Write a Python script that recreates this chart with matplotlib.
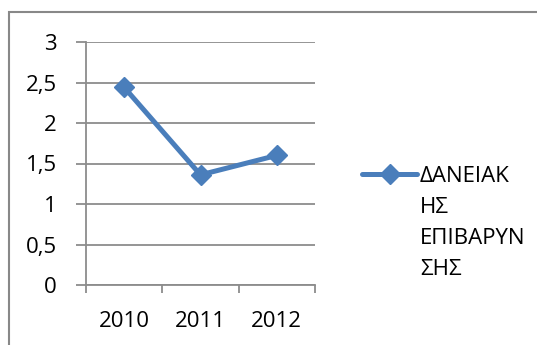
import matplotlib.pyplot as plt
from matplotlib.lines import Line2D
from matplotlib.patches import Rectangle

years = ['2010', '2011', '2012']
values = [2.44, 1.36, 1.60]
series_name = 'ΔΑΝΕΙΑΚ\nΗΣ\nΕΠΙΒΑΡΥΝ\nΣΗΣ'

blue = '#4A7EBB'
grid_col = '#8C8C8C'

plt.rcParams['font.family'] = ['Open Sans', 'DejaVu Sans']

W, H = 537, 345
fig = plt.figure(figsize=(W / 100, H / 100), dpi=100)

# outer chart frame (only top and left visible)
fig.patches.append(Rectangle((8.5 / W, -0.1), 1.2, 1 - 11.5 / H + 0.1,
                             transform=fig.transFigure, fill=False,
                             edgecolor='#888888', linewidth=1.5))

ax = fig.add_axes([86 / W, 1 - 285 / H, (315 - 86) / W, (285 - 42) / H])
x = list(range(len(years)))
ax.plot(x, values, color=blue, linewidth=3.6, marker='D', markersize=10,
        markerfacecolor=blue, markeredgecolor=blue, solid_joinstyle='round',
        clip_on=False)

ax.set_xlim(-0.5, len(years) - 0.5)
ax.set_ylim(0, 3)
ax.set_yticks([0, 0.5, 1, 1.5, 2, 2.5, 3])
ax.set_yticklabels(['0', '0,5', '1', '1,5', '2', '2,5', '3'])
ax.set_xticks(x)
ax.set_xticklabels(years)
ax.set_xticks([i - 0.5 for i in range(len(years) + 1)], minor=True)

ax.yaxis.grid(True, color=grid_col, linewidth=1.3)
ax.set_axisbelow(True)
for s in ['top', 'right']:
    ax.spines[s].set_visible(False)
for s in ['left', 'bottom']:
    ax.spines[s].set_color(grid_col)
    ax.spines[s].set_linewidth(1.3)

ax.tick_params(axis='y', length=7, width=1.3, color=grid_col, labelsize=16, pad=14)
ax.tick_params(axis='x', which='major', length=0, labelsize=16, pad=19)
ax.tick_params(axis='x', which='minor', length=6, width=1.3, color=grid_col)

# legend drawn at the right of the plot
ly = 1 - 174 / H
fig.add_artist(Line2D([362 / W, 417 / W], [ly, ly], color=blue, linewidth=3.6,
                      solid_capstyle='round', transform=fig.transFigure))
fig.add_artist(Line2D([389.5 / W], [ly], color=blue, marker='D',
                      markersize=10, linestyle='none', transform=fig.transFigure))
fig.text(420 / W, 1 - 166 / H, series_name, fontsize=16, va='top', ha='left',
         linespacing=1.62)

fig.savefig('out.png', dpi=100)
